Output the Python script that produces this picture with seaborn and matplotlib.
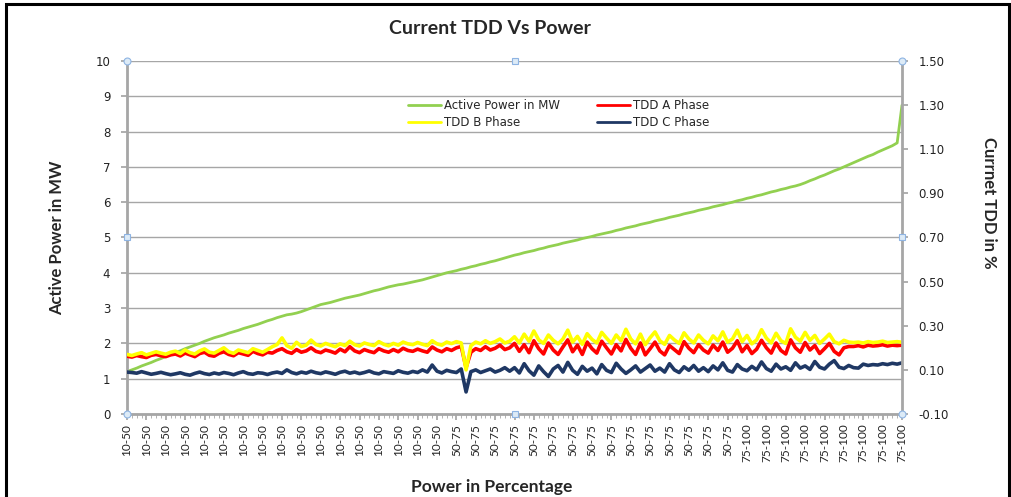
import numpy as np
import pandas as pd
import matplotlib
matplotlib.use("Agg")
import matplotlib.pyplot as plt
import seaborn as sns
from matplotlib.patches import Rectangle
from matplotlib.lines import Line2D

# ---------------- data ----------------
power_mw = [
    1.20, 1.25, 1.30, 1.36, 1.41, 1.46, 1.52, 1.57, 1.63, 1.68, 1.74, 1.79, 1.85,
    1.90, 1.95, 2.00, 2.06, 2.11, 2.16, 2.20, 2.24, 2.29, 2.33, 2.37, 2.42, 2.46, 2.50,
    2.54, 2.59, 2.64, 2.68, 2.73, 2.77, 2.81, 2.83, 2.86, 2.90, 2.95, 3.00, 3.05, 3.10,
    3.13, 3.16, 3.20, 3.24, 3.28, 3.31, 3.34, 3.37, 3.41, 3.45, 3.49, 3.52, 3.56, 3.60,
    3.63, 3.66, 3.68, 3.71, 3.74, 3.77, 3.80, 3.84, 3.88, 3.92, 3.96, 4.00,
    4.03, 4.06, 4.10, 4.13, 4.17, 4.20, 4.24, 4.27, 4.31, 4.34, 4.38, 4.42, 4.46, 4.50,
    4.53, 4.57, 4.60, 4.63, 4.67, 4.70, 4.74, 4.77, 4.80, 4.84, 4.87, 4.90, 4.93, 4.97, 5.00,
    5.03, 5.07, 5.10, 5.13, 5.16, 5.20, 5.23, 5.27, 5.30, 5.33, 5.37, 5.40, 5.43, 5.47, 5.50,
    5.53, 5.57, 5.60, 5.63, 5.67, 5.70, 5.73, 5.77, 5.80, 5.83, 5.87, 5.90, 5.93, 5.97, 6.00,
    6.04, 6.07, 6.11, 6.14, 6.18, 6.21, 6.25, 6.29, 6.32, 6.36, 6.39, 6.43, 6.46, 6.50,
    6.55, 6.61, 6.66, 6.72, 6.77, 6.83, 6.89, 6.94, 7.00,
    7.06, 7.12, 7.18, 7.24, 7.30, 7.35,
    7.42, 7.48, 7.54, 7.60, 7.68, 8.75,
]

tdd_a = [
    0.162, 0.158, 0.165, 0.160, 0.156, 0.166, 0.170, 0.164, 0.160, 0.168,
    0.172, 0.163, 0.176, 0.168, 0.160, 0.174, 0.180, 0.166, 0.162, 0.175,
    0.182, 0.170, 0.164, 0.178, 0.172, 0.166, 0.184, 0.174, 0.168, 0.180,
    0.176, 0.188, 0.196, 0.182, 0.175, 0.192, 0.180, 0.186, 0.200, 0.184,
    0.178, 0.190, 0.184, 0.176, 0.194, 0.182, 0.205, 0.186, 0.178, 0.192,
    0.184, 0.178, 0.196, 0.186, 0.180, 0.192, 0.182, 0.198, 0.188, 0.184,
    0.194, 0.186, 0.180, 0.204, 0.190, 0.182, 0.196, 0.188, 0.200, 0.206,
    0.110,
    0.180, 0.196, 0.188, 0.205, 0.190, 0.198, 0.212, 0.192, 0.200,
    0.220, 0.184, 0.214, 0.178, 0.232, 0.196, 0.172, 0.222, 0.190, 0.170,
    0.204, 0.236, 0.182, 0.212, 0.170, 0.226, 0.196, 0.176, 0.230, 0.200,
    0.172, 0.214, 0.186, 0.238, 0.198, 0.170, 0.222, 0.168, 0.196, 0.226,
    0.186, 0.168, 0.210, 0.192, 0.174, 0.228, 0.198, 0.178, 0.214, 0.190,
    0.176, 0.212, 0.188, 0.226, 0.180, 0.198, 0.232, 0.182, 0.210, 0.174,
    0.194, 0.234, 0.200, 0.176, 0.222, 0.188, 0.172, 0.236, 0.200, 0.180,
    0.224, 0.190, 0.210, 0.174, 0.196, 0.220, 0.184, 0.168, 0.200, 0.206,
    0.206, 0.210, 0.204, 0.212, 0.208, 0.210, 0.214, 0.208, 0.212, 0.210, 0.212,
]

tdd_b = [
    0.170, 0.165, 0.172, 0.178, 0.168, 0.175, 0.182, 0.176, 0.171, 0.180,
    0.185, 0.174, 0.190, 0.178, 0.172, 0.186, 0.195, 0.180, 0.176, 0.188,
    0.200, 0.182, 0.175, 0.190, 0.184, 0.178, 0.196, 0.188, 0.180, 0.192,
    0.205, 0.215, 0.245, 0.210, 0.198, 0.225, 0.206, 0.212, 0.235, 0.215,
    0.208, 0.220, 0.212, 0.205, 0.218, 0.210, 0.230, 0.214, 0.208, 0.222,
    0.215, 0.210, 0.228, 0.216, 0.209, 0.220, 0.212, 0.226, 0.218, 0.214,
    0.224, 0.216, 0.210, 0.232, 0.218, 0.212, 0.226, 0.219, 0.228, 0.222,
    0.100,
    0.210, 0.226, 0.218, 0.232, 0.220, 0.228, 0.240, 0.222, 0.230,
    0.250, 0.222, 0.262, 0.230, 0.276, 0.236, 0.220, 0.258, 0.234, 0.218,
    0.240, 0.280, 0.226, 0.252, 0.216, 0.264, 0.238, 0.222, 0.270, 0.244,
    0.220, 0.258, 0.232, 0.284, 0.240, 0.218, 0.262, 0.214, 0.246, 0.272,
    0.232, 0.216, 0.256, 0.236, 0.220, 0.268, 0.240, 0.222, 0.258, 0.234,
    0.218, 0.254, 0.232, 0.272, 0.226, 0.240, 0.280, 0.228, 0.256, 0.218,
    0.236, 0.282, 0.244, 0.222, 0.266, 0.232, 0.220, 0.286, 0.248, 0.230,
    0.270, 0.234, 0.256, 0.220, 0.240, 0.262, 0.228, 0.218, 0.234, 0.226,
    0.224, 0.226, 0.222, 0.228, 0.224, 0.226, 0.230, 0.224, 0.226, 0.228, 0.225,
]

tdd_c = [
    0.090, 0.088, 0.085, 0.092, 0.086, 0.080, 0.084, 0.089, 0.083, 0.078,
    0.082, 0.087, 0.080, 0.076, 0.084, 0.090, 0.083, 0.079, 0.086, 0.081,
    0.088, 0.084, 0.078, 0.086, 0.092, 0.083, 0.080, 0.087, 0.085, 0.079,
    0.086, 0.090, 0.084, 0.100, 0.088, 0.082, 0.090, 0.085, 0.094, 0.087,
    0.083, 0.091, 0.086, 0.080, 0.089, 0.094, 0.085, 0.090, 0.083, 0.088,
    0.095, 0.086, 0.082, 0.092, 0.088, 0.084, 0.096, 0.089, 0.085, 0.093,
    0.088, 0.100, 0.090, 0.122, 0.094, 0.086, 0.098, 0.092, 0.088, 0.104,
    0.000,
    0.092, 0.100, 0.088, 0.096, 0.104, 0.090, 0.098, 0.110, 0.094,
    0.110, 0.086, 0.128, 0.096, 0.076, 0.118, 0.092, 0.070, 0.104, 0.120,
    0.090, 0.134, 0.098, 0.080, 0.116, 0.094, 0.108, 0.082, 0.124, 0.098,
    0.088, 0.130, 0.104, 0.084, 0.100, 0.118, 0.090, 0.106, 0.122, 0.094,
    0.108, 0.090, 0.128, 0.100, 0.088, 0.114, 0.098, 0.120, 0.094, 0.110,
    0.092, 0.118, 0.100, 0.132, 0.098, 0.090, 0.124, 0.104, 0.096, 0.116,
    0.100, 0.136, 0.106, 0.094, 0.126, 0.104, 0.114, 0.098, 0.132, 0.108,
    0.118, 0.102, 0.138, 0.112, 0.104, 0.126, 0.142, 0.112, 0.106, 0.120,
    0.110, 0.108, 0.126, 0.120, 0.124, 0.122, 0.128, 0.124, 0.130, 0.126, 0.132,
]

# tick labels (one label every 4 readings)
tick_labels = ["10-50"] * 17 + ["50-75"] * 15 + ["75-100"] * 9
label_step = 4

series_names = ["Active Power in MW", "TDD A Phase", "TDD B Phase", "TDD C Phase"]
series_colors = ["#92D050", "#FF0000", "#FFFF00", "#1F3864"]

# --------------- build frames ---------------
n = len(power_mw)
idx = np.arange(n)
df_p = pd.DataFrame({"idx": idx, "value": power_mw, "series": series_names[0]})
df_t = pd.concat([
    pd.DataFrame({"idx": idx, "value": tdd_a, "series": series_names[1]}),
    pd.DataFrame({"idx": idx, "value": tdd_b, "series": series_names[2]}),
    pd.DataFrame({"idx": idx, "value": tdd_c, "series": series_names[3]}),
])

sns.set_theme(style="white")
plt.rcParams["font.family"] = ["DejaVu Sans"]

fig = plt.figure(figsize=(10.11, 4.97), dpi=100)
fig.patch.set_facecolor("white")
ax = fig.add_axes([127 / 1011, 1 - 414 / 497, 775 / 1011, 353 / 497])
ax2 = ax.twinx()

grid_col = "#A6A6A6"

sns.lineplot(data=df_p, x="idx", y="value", color=series_colors[0], lw=2.0,
             ax=ax, legend=False)
sns.lineplot(data=df_t, x="idx", y="value", hue="series",
             hue_order=series_names[1:], palette=series_colors[1:], lw=2.6,
             ax=ax2, legend=False)

ax.set_zorder(1)
ax2.set_zorder(2)
ax2.patch.set_visible(False)
ax.patch.set_facecolor("white")

ax.set_xlim(0, n - 1)
ax.set_ylim(0, 10)
ax2.set_ylim(-0.1, 1.5)
ax.set_yticks(np.arange(0, 11, 1))
rt = np.arange(-0.1, 1.51, 0.2)
ax2.set_yticks(rt)
ax2.set_yticklabels([f"{v:.2f}" for v in rt])

ticks = np.arange(0, n, label_step)
ax.set_xticks(ticks)
ax.set_xticklabels(tick_labels, rotation=90, fontsize=8.5, family="Lato",
                   color="#222222")
ax.set_xticks(idx, minor=True)

ax.grid(axis="y", color=grid_col, lw=1.0)
ax.grid(axis="x", visible=False)
ax2.grid(False)

for a in (ax, ax2):
    for s in a.spines.values():
        s.set_visible(False)
for a, side in ((ax, "left"), (ax, "bottom"), (ax2, "right")):
    a.spines[side].set_visible(True)
    a.spines[side].set_color(grid_col)
    a.spines[side].set_linewidth(2)

ax.tick_params(axis="y", which="major", left=True, length=4, color=grid_col,
               labelsize=8.5, labelcolor="#222222", pad=8)
ax2.tick_params(axis="y", which="major", right=True, length=4, color=grid_col,
                labelsize=8.5, labelcolor="#222222", pad=8)
ax.tick_params(axis="x", which="major", bottom=True, length=4, color=grid_col, pad=3)
ax.tick_params(axis="x", which="minor", bottom=True, length=3, color=grid_col, width=0.6)

ax.set_xlabel("")
ax.set_ylabel("")
ax2.set_ylabel("")

# titles
fig.text(490 / 1011, 1 - 28 / 497, "Current TDD Vs Power", ha="center", va="center",
         fontsize=14, fontweight="bold", family="Lato")
fig.text(57 / 1011, 1 - 238 / 497, "Active Power in MW", ha="center", va="center",
         rotation=90, fontsize=12, fontweight="bold", family="Lato")
fig.text(989 / 1011, 1 - 203 / 497, "Currnet TDD in %", ha="center", va="center",
         rotation=-90, fontsize=12, fontweight="bold", family="Lato")
fig.text(492 / 1011, 1 - 487 / 497, "Power in Percentage", ha="center", va="center",
         fontsize=12.5, fontweight="bold", family="Lato")

# legend
handles = [Line2D([], [], color=series_colors[0], lw=2),
           Line2D([], [], color=series_colors[2], lw=2),
           Line2D([], [], color=series_colors[1], lw=2),
           Line2D([], [], color=series_colors[3], lw=2)]
labels = [series_names[0], series_names[2], series_names[1], series_names[3]]
ax2.legend(handles, labels, ncol=2, frameon=False, loc="upper left",
           bbox_to_anchor=((408 - 127) / 775, (414 - 99) / 353),
           fontsize=8.5, handlelength=2.8, handletextpad=0.25,
           columnspacing=3.1, labelspacing=0.35, borderpad=0, borderaxespad=0)

# chart selection handles (decoration like the source)
hx = [0, 0.5, 1, 0, 1, 0, 0.5, 1]
hy = [1, 1, 1, 0.5, 0.5, 0, 0, 0]
for x, y in zip(hx, hy):
    mk = "o" if (x in (0, 1) and y in (0, 1)) else "s"
    ax2.plot([x], [y], marker=mk, ms=5 if mk == "o" else 4, mfc="#DDEBF7",
             mec="#8EB4E3", mew=0.8, transform=ax2.transAxes, clip_on=False, zorder=10)

# outer chart border
fig.add_artist(Rectangle((6 / 1011, -0.02), 1003 / 1011, 1.02 - 4 / 497,
                         transform=fig.transFigure, fill=False, ec="black", lw=2.2))

fig.savefig("out.png", dpi=100)
